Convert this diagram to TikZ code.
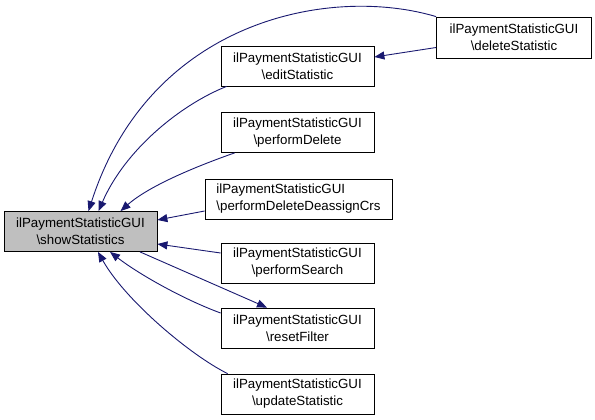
\documentclass[tikz,border=0pt]{standalone}
\usepackage{fontspec}
\setmainfont{Liberation Sans}
\usetikzlibrary{arrows.meta}
\definecolor{edgeblue}{HTML}{191970}
\definecolor{maingray}{HTML}{BFBFBF}
\begin{document}
\begin{tikzpicture}[x=1pt,y=-1pt,
  fn/.style={draw=black, fill=white, minimum width=153pt, minimum height=40pt,
    inner sep=0pt, align=center, font=\fontsize{13.3}{17}\selectfont, line width=0.8pt},
  link/.style={draw=edgeblue, line width=0.9pt, -{Triangle[length=10pt,width=8pt]}}]
\useasboundingbox (0,0) rectangle (595,420);
\node[fn, fill=maingray] (main) at (80.5,231.5) {ilPaymentStatisticGUI\\\textbackslash showStatistics};
\node[fn, minimum width=155pt, minimum height=41pt] (del) at (514,37.5) {ilPaymentStatisticGUI\\\textbackslash deleteStatistic};
\node[fn] (edit) at (297.5,66) {ilPaymentStatisticGUI\\\textbackslash editStatistic};
\node[fn] (pdel) at (297.5,132.5) {ilPaymentStatisticGUI\\\textbackslash performDelete};
\node[fn, minimum width=187pt, align=left] (pdda) at (298.5,199) {ilPaymentStatisticGUI\\\textbackslash performDeleteDeassignCrs};
\node[fn] (search) at (297.5,263) {ilPaymentStatisticGUI\\\textbackslash performSearch};
\node[fn] (reset) at (297.5,328) {ilPaymentStatisticGUI\\\textbackslash resetFilter};
\node[fn] (upd) at (297.5,394) {ilPaymentStatisticGUI\\\textbackslash updateStatistic};

\draw[link] (del.north west) .. controls (330,-15) and (150,20) .. ([xshift=8pt]main.north);
\draw[link] ([yshift=-10pt]del.west) -- ([yshift=9pt]edit.east);
\draw[link] ([xshift=6pt]edit.south west) .. controls (180,105) and (125,150) .. ([xshift=18pt]main.north);
\draw[link] ([xshift=14pt]pdel.south west) .. controls (200,165) and (150,185) .. ([xshift=40pt]main.north);
\draw[link] ([yshift=-12pt]pdda.west) -- ([yshift=11.5pt]main.east);
\draw[link] ([yshift=10pt]search.west) -- ([yshift=-12.5pt]main.east);
\draw[link] ([xshift=59.5pt]main.south) -- ([xshift=-30.5pt]reset.north);
\draw[link] ([yshift=15pt]reset.west) .. controls (185,300) and (140,275) .. ([xshift=29.5pt]main.south);
\draw[link] ([xshift=7pt]upd.north west) .. controls (190,355) and (125,300) .. ([xshift=17.5pt]main.south);
\end{tikzpicture}
\end{document}
